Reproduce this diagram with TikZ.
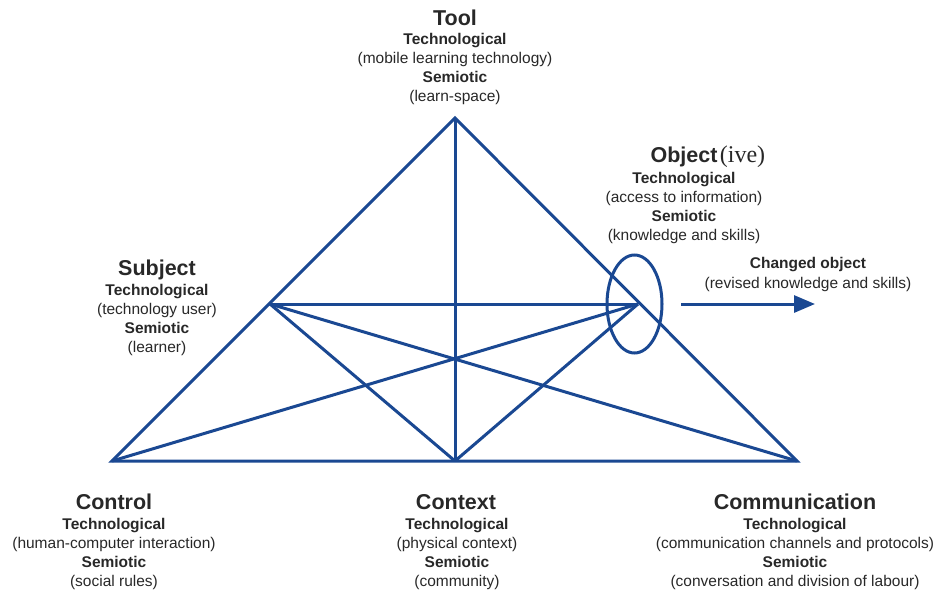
\documentclass[tikz,border=0pt]{standalone}
\usepackage{fontspec}
\setmainfont{Liberation Sans}
\newfontfamily\ivefont{Liberation Serif}
\usetikzlibrary{shapes.geometric,arrows.meta}

\definecolor{lineblue}{RGB}{26,72,146}
\definecolor{textgrey}{RGB}{40,40,40}

\newcommand{\bodysize}{\fontsize{15.5}{19.2}\selectfont}
\newcommand{\headsize}{\fontsize{21.5}{24}\selectfont\bfseries}

% info blocks are anchored at the baseline of their last line
\tikzset{
  edge/.style={draw=lineblue, line width=3pt},
  heading/.style={font=\headsize, text=textgrey, inner sep=0pt, anchor=base},
  info/.style={font=\bodysize, text=textgrey, align=center, inner sep=0pt, anchor=base},
}

\begin{document}
\begin{tikzpicture}[x=1pt,y=-1pt]
\useasboundingbox (0,0) rectangle (940,595);

% corners and inner points of the activity triangle
\coordinate (tool) at (455,118);
\coordinate (control) at (112,461);
\coordinate (communication) at (797,461);
\coordinate (context) at (455,461);
\coordinate (subject) at (270,304);
\coordinate (object) at (638,304);

% outer triangle
\draw[edge, line join=miter] (tool) -- (control) -- (communication) -- cycle;
% inner connections
\draw[edge] (tool) -- (context);
\draw[edge] (subject) -- (object);
\draw[edge] (subject) -- (context);
\draw[edge] (subject) -- (communication);
\draw[edge] (object) -- (context);
\draw[edge] (object) -- (control);

% ring around the object
\node[ellipse, draw=lineblue, line width=3pt, minimum width=55pt, minimum height=98pt, inner sep=0pt] (objring) at (634.5,304) {};

% outcome arrow
\coordinate (outstart) at (681,304);
\coordinate (outend) at (815,304);
\draw[edge, -{Triangle[length=21pt,width=17pt]}] (outstart) -- (outend);

% Tool
\node[heading] (toolhead) at (455,25) {Tool};
\node[info] (tooltext) at (455,101.6) {\textbf{Technological}\\(mobile learning technology)\\\textbf{Semiotic}\\(learn-space)};

% Object(ive)
\node[heading] (objhead) at (684,162) {Object};
\node[font=\ivefont\fontsize{24}{26}\selectfont, text=textgrey, inner sep=0pt, anchor=base west] (objive) at ([xshift=2pt]objhead.base east) {(ive)};
\node[info] (objtext) at (684,240.6) {\textbf{Technological}\\(access to information)\\\textbf{Semiotic}\\(knowledge and skills)};

% Subject
\node[heading] (subjhead) at (157,275) {Subject};
\node[info] (subjtext) at (157,352.6) {\textbf{Technological}\\(technology user)\\\textbf{Semiotic}\\(learner)};

% Changed object
\node[info] (changed) at (808,288) {\textbf{Changed object}\\(revised knowledge and skills)};

% Control
\node[heading] (ctrlhead) at (114,509) {Control};
\node[info] (ctrltext) at (114,586.6) {\textbf{Technological}\\(human-computer interaction)\\\textbf{Semiotic}\\(social rules)};

% Context
\node[heading] (ctxhead) at (456,509) {Context};
\node[info] (ctxtext) at (457,586.6) {\textbf{Technological}\\(physical context)\\\textbf{Semiotic}\\(community)};

% Communication
\node[heading] (comhead) at (795,509) {Communication};
\node[info] (comtext) at (795,586.6) {\textbf{Technological}\\(communication channels and protocols)\\\textbf{Semiotic}\\(conversation and division of labour)};
\end{tikzpicture}
\end{document}
